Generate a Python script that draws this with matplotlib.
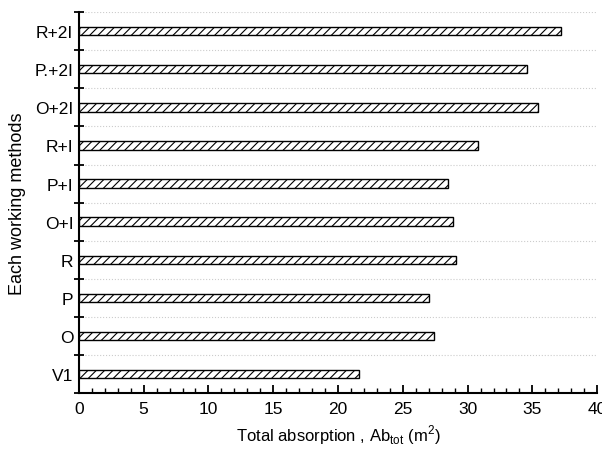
import matplotlib
matplotlib.use("Agg")
import matplotlib.pyplot as plt
import numpy as np

plt.rcParams['font.family'] = ['Liberation Sans', 'DejaVu Sans']
plt.rcParams['hatch.linewidth'] = 0.8

methods = ["V1", "O", "P", "R", "O+I", "P+I", "R+I", "O+2I", "P.+2I", "R+2I"]
absorption = [21.6, 27.4, 27.0, 29.1, 28.9, 28.5, 30.8, 35.4, 34.6, 37.2]

fig = plt.figure(figsize=(6.02, 4.52), dpi=100)
ax = fig.add_axes([0.131, 0.128, 0.861, 0.843])

y = np.arange(len(methods))
ax.barh(y, absorption, height=0.22, color='white', edgecolor='black',
        hatch='////', linewidth=1.0, zorder=3)

ax.set_xlim(0, 40)
ax.set_ylim(-0.5, len(methods) - 0.5)

# ticks on the boundaries, labels in the middle
ax.set_yticks(np.arange(-0.5, len(methods), 1.0))
ax.set_yticklabels([])
ax.set_yticks(y, minor=True)
ax.set_yticklabels(methods, minor=True, fontsize=12.5)
ax.tick_params(axis='y', which='major', direction='inout', length=7, width=1.3)
ax.tick_params(axis='y', which='minor', length=0, pad=4)

ax.set_xticks(np.arange(0, 41, 5))
ax.set_xticks(np.arange(0, 41, 1), minor=True)
ax.tick_params(axis='x', which='major', direction='in', length=6, width=1.3,
               labelsize=12.5, pad=6)
ax.tick_params(axis='x', which='minor', direction='in', length=3.5, width=1.0)

ax.grid(axis='y', which='major', color='#cccccc', linestyle=':', linewidth=0.8, zorder=0)

for s in ['top', 'right']:
    ax.spines[s].set_visible(False)
for s in ['left', 'bottom']:
    ax.spines[s].set_linewidth(1.5)

ax.set_ylabel("Each working methods", fontsize=13, labelpad=6)
ax.set_xlabel(r"Total absorption , Ab$_{\mathregular{tot}}$ (m$^{\mathregular{2}}$)",
              fontsize=12, labelpad=4)

fig.savefig("out.png", dpi=100)
